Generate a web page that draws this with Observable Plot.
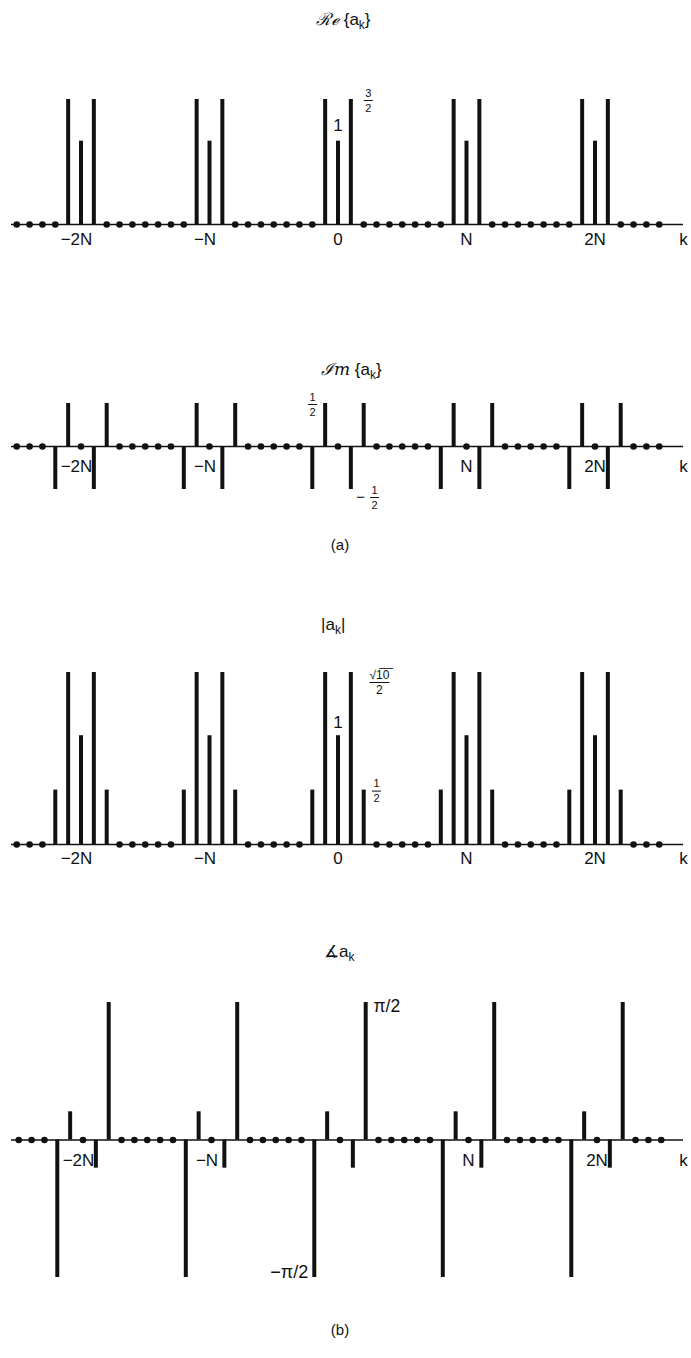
<!DOCTYPE html>
<html><head><meta charset="utf-8">
<script src="https://cdn.jsdelivr.net/npm/d3@7"></script>
<script src="https://cdn.jsdelivr.net/npm/@observablehq/plot@0.6"></script>
<style>
body{margin:0;background:#fff}
#fig{position:relative;width:691px;height:1358px;font-family:"Liberation Sans",Arial,sans-serif;color:#111;background:#fff;overflow:hidden}
.t{position:absolute;font-size:17px;line-height:20px;white-space:nowrap}
.sub{font-size:12px;position:relative;top:4px}
.scr{font-family:"DejaVu Serif",serif;font-style:italic}
.p{position:absolute;left:0}
.cap{position:absolute;font-size:15px;line-height:18px;width:60px;text-align:center}
</style></head><body><div id="fig"></div>
<script>
// index k of the Fourier series coefficients
const k = [-25,-24,-23,-22,-21,-20,-19,-18,-17,-16,
           -15,-14,-13,-12,-11,-10,-9,-8,-7,-6,
           -5,-4,-3,-2,-1,0,1,2,3,4,
           5,6,7,8,9,10,11,12,13,14,
           15,16,17,18,19,20,21,22,23,24,
           25];
// Re{a_k}
const reA = [0,0,0,0,1.5,1,1.5,0,0,0,
             0,0,0,0,1.5,1,1.5,0,0,0,
             0,0,0,0,1.5,1,1.5,0,0,0,
             0,0,0,0,1.5,1,1.5,0,0,0,
             0,0,0,0,1.5,1,1.5,0,0,0,
             0];
// Im{a_k}
const imA = [0,0,0,-0.5,0.5,0,-0.5,0.5,0,0,
             0,0,0,-0.5,0.5,0,-0.5,0.5,0,0,
             0,0,0,-0.5,0.5,0,-0.5,0.5,0,0,
             0,0,0,-0.5,0.5,0,-0.5,0.5,0,0,
             0,0,0,-0.5,0.5,0,-0.5,0.5,0,0,
             0];
// |a_k|
const magA = [0,0,0,0.5,1.581,1,1.581,0.5,0,0,
              0,0,0,0.5,1.581,1,1.581,0.5,0,0,
              0,0,0,0.5,1.581,1,1.581,0.5,0,0,
              0,0,0,0.5,1.581,1,1.581,0.5,0,0,
              0,0,0,0.5,1.581,1,1.581,0.5,0,0,
              0];
// angle a_k (radians)
const phA = [0,0,0,-1.571,0.322,0,-0.322,1.571,0,0,
             0,0,0,-1.571,0.322,0,-0.322,1.571,0,0,
             0,0,0,-1.571,0.322,0,-0.322,1.571,0,0,
             0,0,0,-1.571,0.322,0,-0.322,1.571,0,0,
             0,0,0,-1.571,0.322,0,-0.322,1.571,0,0,
             0];
// tick labels on the k axis (the Im and phase panels omit "0")
const tickK = [-20,-10,0,10,20];
const tickLabels = ["\u22122N","\u2212N","0","N","2N"];
const tickK2 = [-20,-10,10,20];
const tickLabels2 = ["\u22122N","\u2212N","N","2N"];

const INK = "#111";
const mkTicks = (ks, ls) => ks.map((kk,i)=>({k:kk, label:ls[i]}));
const table = vals => k.map((kk,i)=>({k:kk, v:vals[i]}));

// horizontal-line symbol used as a fraction bar
const hline = {draw(ctx, size){ const w = Math.sqrt(size/Math.PI); ctx.moveTo(-w,0); ctx.lineTo(w,0); }};

function baseMarks(rows, ticks, tickDy){
  return [
    Plot.ruleY([0], {stroke:INK, strokeWidth:1.3}),
    Plot.ruleX(rows.filter(d=>d.v!==0), {x:"k", y1:0, y2:"v", stroke:INK, strokeWidth:4}),
    Plot.dot(rows.filter(d=>d.v===0), {x:"k", y:"v", r:3.3, fill:INK}),
    Plot.text(ticks.filter(d=>d.k<0), {x:"k", y:0, text:"label", dx:-4.5, dy:tickDy, fontSize:17, fill:INK}),
    Plot.text(ticks.filter(d=>d.k>=0), {x:"k", y:0, text:"label", dy:tickDy, fontSize:17, fill:INK}),
    Plot.text([{label:"k", v:0}], {y:"v", text:"label", frameAnchor:"right", textAnchor:"middle", dy:tickDy, fontSize:17, fill:INK})
  ];
}
function frac(d, {dx=0, dy=0, size=11, half=4.5}){
  return [
    Plot.text([d], {x:"k", y:"v", text:"num", dx, dy:dy-7.5, fontSize:size, fill:INK}),
    Plot.dot([d], {x:"k", y:"v", dx, dy, r:half, symbol:hline, stroke:INK, strokeWidth:1, fill:"none"}),
    Plot.text([d], {x:"k", y:"v", text:"den", dx, dy:dy+7.5, fontSize:size, fill:INK})
  ];
}
function panel({top, height, rows, ticks, yDomain, yRange, xc, tickDy, extra}){
  const svg = Plot.plot({
    width:691, height, marginLeft:11, marginRight:8, marginTop:0, marginBottom:0,
    x:{domain:[-25,25], range:[xc-321.25, xc+321.25], axis:null},
    y:{domain:yDomain, range:yRange, axis:null},
    r:{type:"identity"},
    style:{fontFamily:"'Liberation Sans', Arial, sans-serif", background:"transparent", overflow:"visible"},
    marks:[...baseMarks(rows, ticks, tickDy), ...extra]
  });
  svg.classList.add("p");
  svg.style.top = top + "px";
  return svg;
}

// annotations (anchor = coefficient index and value)
const reOne = {k:0, v:1, text:"1"};
const reFrac = {k:1, v:1.5, num:"3", den:"2"};
const imFracUp = {k:-1, v:0.5, num:"1", den:"2"};
const imFracDn = {k:1, v:-0.5, num:"1", den:"2", sign:"\u2212"};
const magOne = {k:0, v:1, text:"1"};
const magFracTop = {k:1, v:1.581, num:"\u221A1\u03050\u0305", den:"2"};
const magFracHalf = {k:2, v:0.5, num:"1", den:"2"};
const phUp = {k:2, v:1.571, text:"\u03C0/2"};
const phDn = {k:-2, v:-1.571, text:"\u2212\u03C0/2"};

const fig = document.getElementById("fig");
const ticksA = mkTicks(tickK, tickLabels);
const ticksB = mkTicks(tickK2, tickLabels2);

fig.appendChild(panel({top:40, height:230, rows:table(reA), ticks:ticksA, yDomain:[0,1.5], yRange:[184,59], xc:337.5, tickDy:15,
  extra:[
    Plot.text([reOne], {x:"k", y:"v", text:"text", dy:-16, fontSize:17, fill:INK}),
    ...frac(reFrac, {dx:17.5, dy:1, size:11, half:4.5})
  ]}));

fig.appendChild(panel({top:385, height:150, rows:table(imA), ticks:ticksB, yDomain:[-0.5,0.5], yRange:[104,18], xc:337.5, tickDy:20,
  extra:[
    ...frac(imFracUp, {dx:-12.6, dy:1, size:11, half:4.5}),
    Plot.text([imFracDn], {x:"k", y:"v", text:"sign", dx:9.7, dy:8, fontSize:15, fill:INK}),
    ...frac(imFracDn, {dx:23.6, dy:8, size:11, half:4.5})
  ]}));

fig.appendChild(panel({top:650, height:230, rows:table(magA), ticks:ticksA, yDomain:[0,1.581], yRange:[194,22], xc:337.5, tickDy:14,
  extra:[
    Plot.text([magOne], {x:"k", y:"v", text:"text", dy:-13, fontSize:17, fill:INK}),
    ...frac(magFracTop, {dx:28.6, dy:10, size:12, half:10}),
    ...frac(magFracHalf, {dx:12.8, dy:1, size:11, half:4.5})
  ]}));

fig.appendChild(panel({top:980, height:320, rows:table(phA), ticks:ticksB, yDomain:[-1.571,1.571], yRange:[297,22], xc:339.5, tickDy:21,
  extra:[
    Plot.text([phUp], {x:"k", y:"v", text:"text", textAnchor:"start", dx:7.8, dy:4, fontSize:17.5, fill:INK}),
    Plot.text([phDn], {x:"k", y:"v", text:"text", textAnchor:"end", dx:-6, dy:-5, fontSize:18, fill:INK})
  ]}));

// titles and captions
function addHTML(cls, left, top, html){
  const d = document.createElement("div");
  d.className = cls; d.style.left = left + "px"; d.style.top = top + "px"; d.innerHTML = html;
  fig.appendChild(d);
}
addHTML("t", 316, 9, "<span class='scr'>\u211B\u212F</span> {a<span class='sub'>k</span>}");
addHTML("t", 321, 359, "<span class='scr'>\u2110m</span> {a<span class='sub'>k</span>}");
addHTML("t", 321, 615, "|a<span class='sub'>k</span>|");
addHTML("t", 324, 942, "\u2221a<span class='sub'>k</span>");
addHTML("cap", 310, 536, "(a)");
addHTML("cap", 310, 1321, "(b)");
</script></body></html>
